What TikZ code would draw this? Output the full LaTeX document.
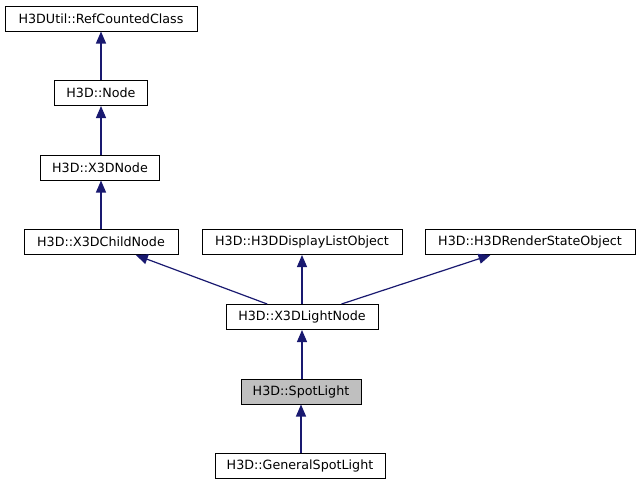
\documentclass[tikz,border=0pt]{standalone}
\usepackage{fontspec}
\setmainfont{DejaVu Sans}
\usetikzlibrary{arrows.meta}
\definecolor{edgeblue}{RGB}{25,25,112}
\definecolor{curgray}{RGB}{191,191,191}
\tikzset{
  cls/.style={draw=black, line width=1pt, fill=white, minimum height=25pt, inner sep=0pt, font=\fontsize{12.7}{14}\selectfont},
  inh/.style={draw=edgeblue, line width=1.2pt, -{Triangle[length=12pt,width=10pt]}}
}
\begin{document}
\begin{tikzpicture}[x=1pt,y=-1pt]
	\useasboundingbox (0,0) rectangle (639,485);
	\node[cls, minimum width=192pt] (rcc) at (101,18.5) {H3DUtil::RefCountedClass};
	\node[cls, minimum width=93pt] (node) at (101,93) {H3D::Node};
	\node[cls, minimum width=119pt] (x3d) at (100,167.5) {H3D::X3DNode};
	\node[cls, minimum width=154pt] (child) at (101,242) {H3D::X3DChildNode};
	\node[cls, minimum width=200pt] (dlo) at (302,242) {H3D::H3DDisplayListObject};
	\node[cls, minimum width=210pt] (rso) at (530,242) {H3D::H3DRenderStateObject};
	\node[cls, minimum width=152pt] (light) at (302,317) {H3D::X3DLightNode};
	\node[cls, minimum width=120pt, fill=curgray] (spot) at (301,391.5) {H3D::SpotLight};
	\node[cls, minimum width=170pt] (gspot) at (300,466) {H3D::GeneralSpotLight};
	% inheritance arrows
	\draw[inh] (node) -- (rcc);
	\draw[inh] (x3d.north -| node) -- (node);
	\draw[inh] (child) -- (x3d.south -| child);
	\draw[inh] (light) -- (child);
	\draw[inh] (light) -- (dlo);
	\draw[inh] (light) -- (rso);
	\draw[inh] (spot.north -| light) -- (light);
	\draw[inh] (gspot.north -| spot) -- (spot);
\end{tikzpicture}
\end{document}
